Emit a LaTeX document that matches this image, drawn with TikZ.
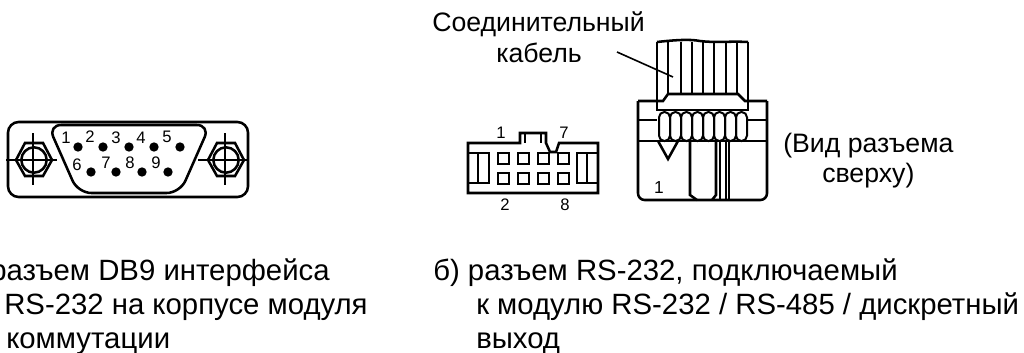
\documentclass[tikz,border=0pt]{standalone}
\usepackage{fontspec}
\setmainfont{Liberation Sans}
\tikzset{
  thick line/.style={line width=1.9pt},
  thin line/.style={line width=1.2pt},
  label text/.style={font=\fontsize{20}{24}\selectfont,inner sep=0pt,anchor=base west},
  caption text/.style={font=\fontsize{22}{26}\selectfont,inner sep=0pt,anchor=base west},
  pin text/.style={font=\fontsize{12.5}{15}\selectfont,inner sep=0pt},
  pin dot/.style={circle,fill,inner sep=0pt,minimum size=7pt},
  pad box/.style={line width=1.7pt}
}
\begin{document}
\begin{tikzpicture}[x=0.75pt,y=-0.75pt]
  \useasboundingbox (0,0) rectangle (1024,353);
  % DB9 shell
  \draw[thick line,rounded corners=8pt] (8,122) rectangle (248,197);
  \draw[thick line,rounded corners=10pt] (48,125) -- (210,125) -- (180,193) -- (78,193) -- cycle;
  % screws
  \foreach \cx in {34,226} {
    \draw[thick line,fill=white] (\cx-18,160) -- (\cx-9,143) -- (\cx+9,143) -- (\cx+18,160) -- (\cx+9,176) -- (\cx-9,176) -- cycle;
    \draw[thick line] (\cx,160) circle (9.5pt);
    \draw[thin line] (\cx-28,160) -- (\cx+23,160);
    \draw[thin line] (\cx-1,133) -- (\cx-1,185);
  }
  % pins
  \foreach \px/\py/\tx/\ty/\num in {78/147/66/138/1,103/147/90/137/2,129/147/116/138/3,154/147/141/138/4,180/147/167/137/5,91/172/77/165/6,116/172/106/163/7,142/172/130/163/8,168/172/156/163/9} {
    \node[pin dot] (pin\num) at (\px,\py) {};
    \node[pin text] (num\num) at (\tx,\ty) {\num};
  }
  % small connector top view
  \draw[thick line] (468,143) -- (520,143) -- (520,133) -- (546,133) -- (546,143) -- (550,152) -- (556,152) -- (559,143) -- (598,143) -- (598,193) -- (468,193) -- cycle;
  \draw[thick line] (525,133) -- (525,143);
  \draw[thick line] (541,133) -- (541,143);
  \draw[thick line] (468,153) -- (489,153) -- (489,183) -- (468,183);
  \draw[thick line] (478,153) -- (478,183);
  \draw[thick line] (598,153) -- (577,153) -- (577,183) -- (598,183);
  \draw[thick line] (587,153) -- (587,183);
  \foreach \sx in {498,518,538,558} {
    \draw[pad box] (\sx,153) rectangle +(11,11);
    \draw[pad box] (\sx,173) rectangle +(11,11);
  }
  \node[pin text] (numa) at (501,133) {1};
  \node[pin text] (numb) at (564,133) {7};
  \node[pin text] (numc) at (505,205) {2};
  \node[pin text] (numd) at (565,205) {8};
  % cable
  \draw[thick line] (657,42) .. controls (675,40) and (690,39) .. (700,41) .. controls (715,43) and (730,41) .. (748,42);
  \foreach \lx in {657,668,681,692,703,714,726,737,748} {
    \draw[thick line] (\lx,42) -- (\lx,94);
  }
  % connector body
  \draw[thick line,rounded corners=5pt] (638,101) -- (638,200) -- (767,200) -- (767,101);
  \draw[thick line] (638,101) -- (663,101) -- (668,94) -- (738,94) -- (745,101) -- (767,101);
  \draw[thick line] (657,94) -- (657,110) -- (748,110) -- (748,94);
  \draw[thick line] (638,120) -- (657,120) (748,120) -- (767,120);
  \draw[thick line] (638,141) -- (767,141);
  % latch teeth
  \foreach \tx in {659,670,681,692,703,714,725,736} {
    \draw[line width=1.5pt,rounded corners=4pt] (\tx,112) rectangle (\tx+11,141);
  }
  % key mark and middle latch
  \draw[thick line] (658,141) -- (668,159) -- (678,141);
  \draw[thick line] (690,141) -- (690,195) -- (697,200) (712,200) -- (716,195) -- (716,141);
  \draw[thick line] (720,141) -- (720,200);
  \draw[thick line] (726,141) -- (726,200);
  \draw[thick line] (729,141) -- (729,200);
  % labels
  \coordinate (leader start) at (617,52);
  \coordinate (leader end) at (673,77);
  \node[label text] (cablea) at (432,32) {Соединительный};
  \node[label text] (cableb) at (496,63) {кабель};
  \draw[thin line] (leader start) -- (leader end);
  \node[pin text,font=\fontsize{13}{15}\selectfont] (nume) at (659,188) {1};
  \node[label text] (viewa) at (783,152) {(Вид разъема};
  \node[label text] (viewb) at (822,182) {сверху)};
  \node[caption text] (capa) at (-10,280) {разъем DB9 интерфейса};
  \node[caption text] (capb) at (4,314) {RS-232 на корпусе модуля};
  \node[caption text] (capc) at (6,348) {коммутации};
  \node[caption text] (capd) at (433,280) {б) разъем RS-232, подключаемый};
  \node[caption text] (cape) at (476,314) {к модулю RS-232 / RS-485 / дискретный};
  \node[caption text] (capf) at (476,348) {выход};
\end{tikzpicture}
\end{document}
